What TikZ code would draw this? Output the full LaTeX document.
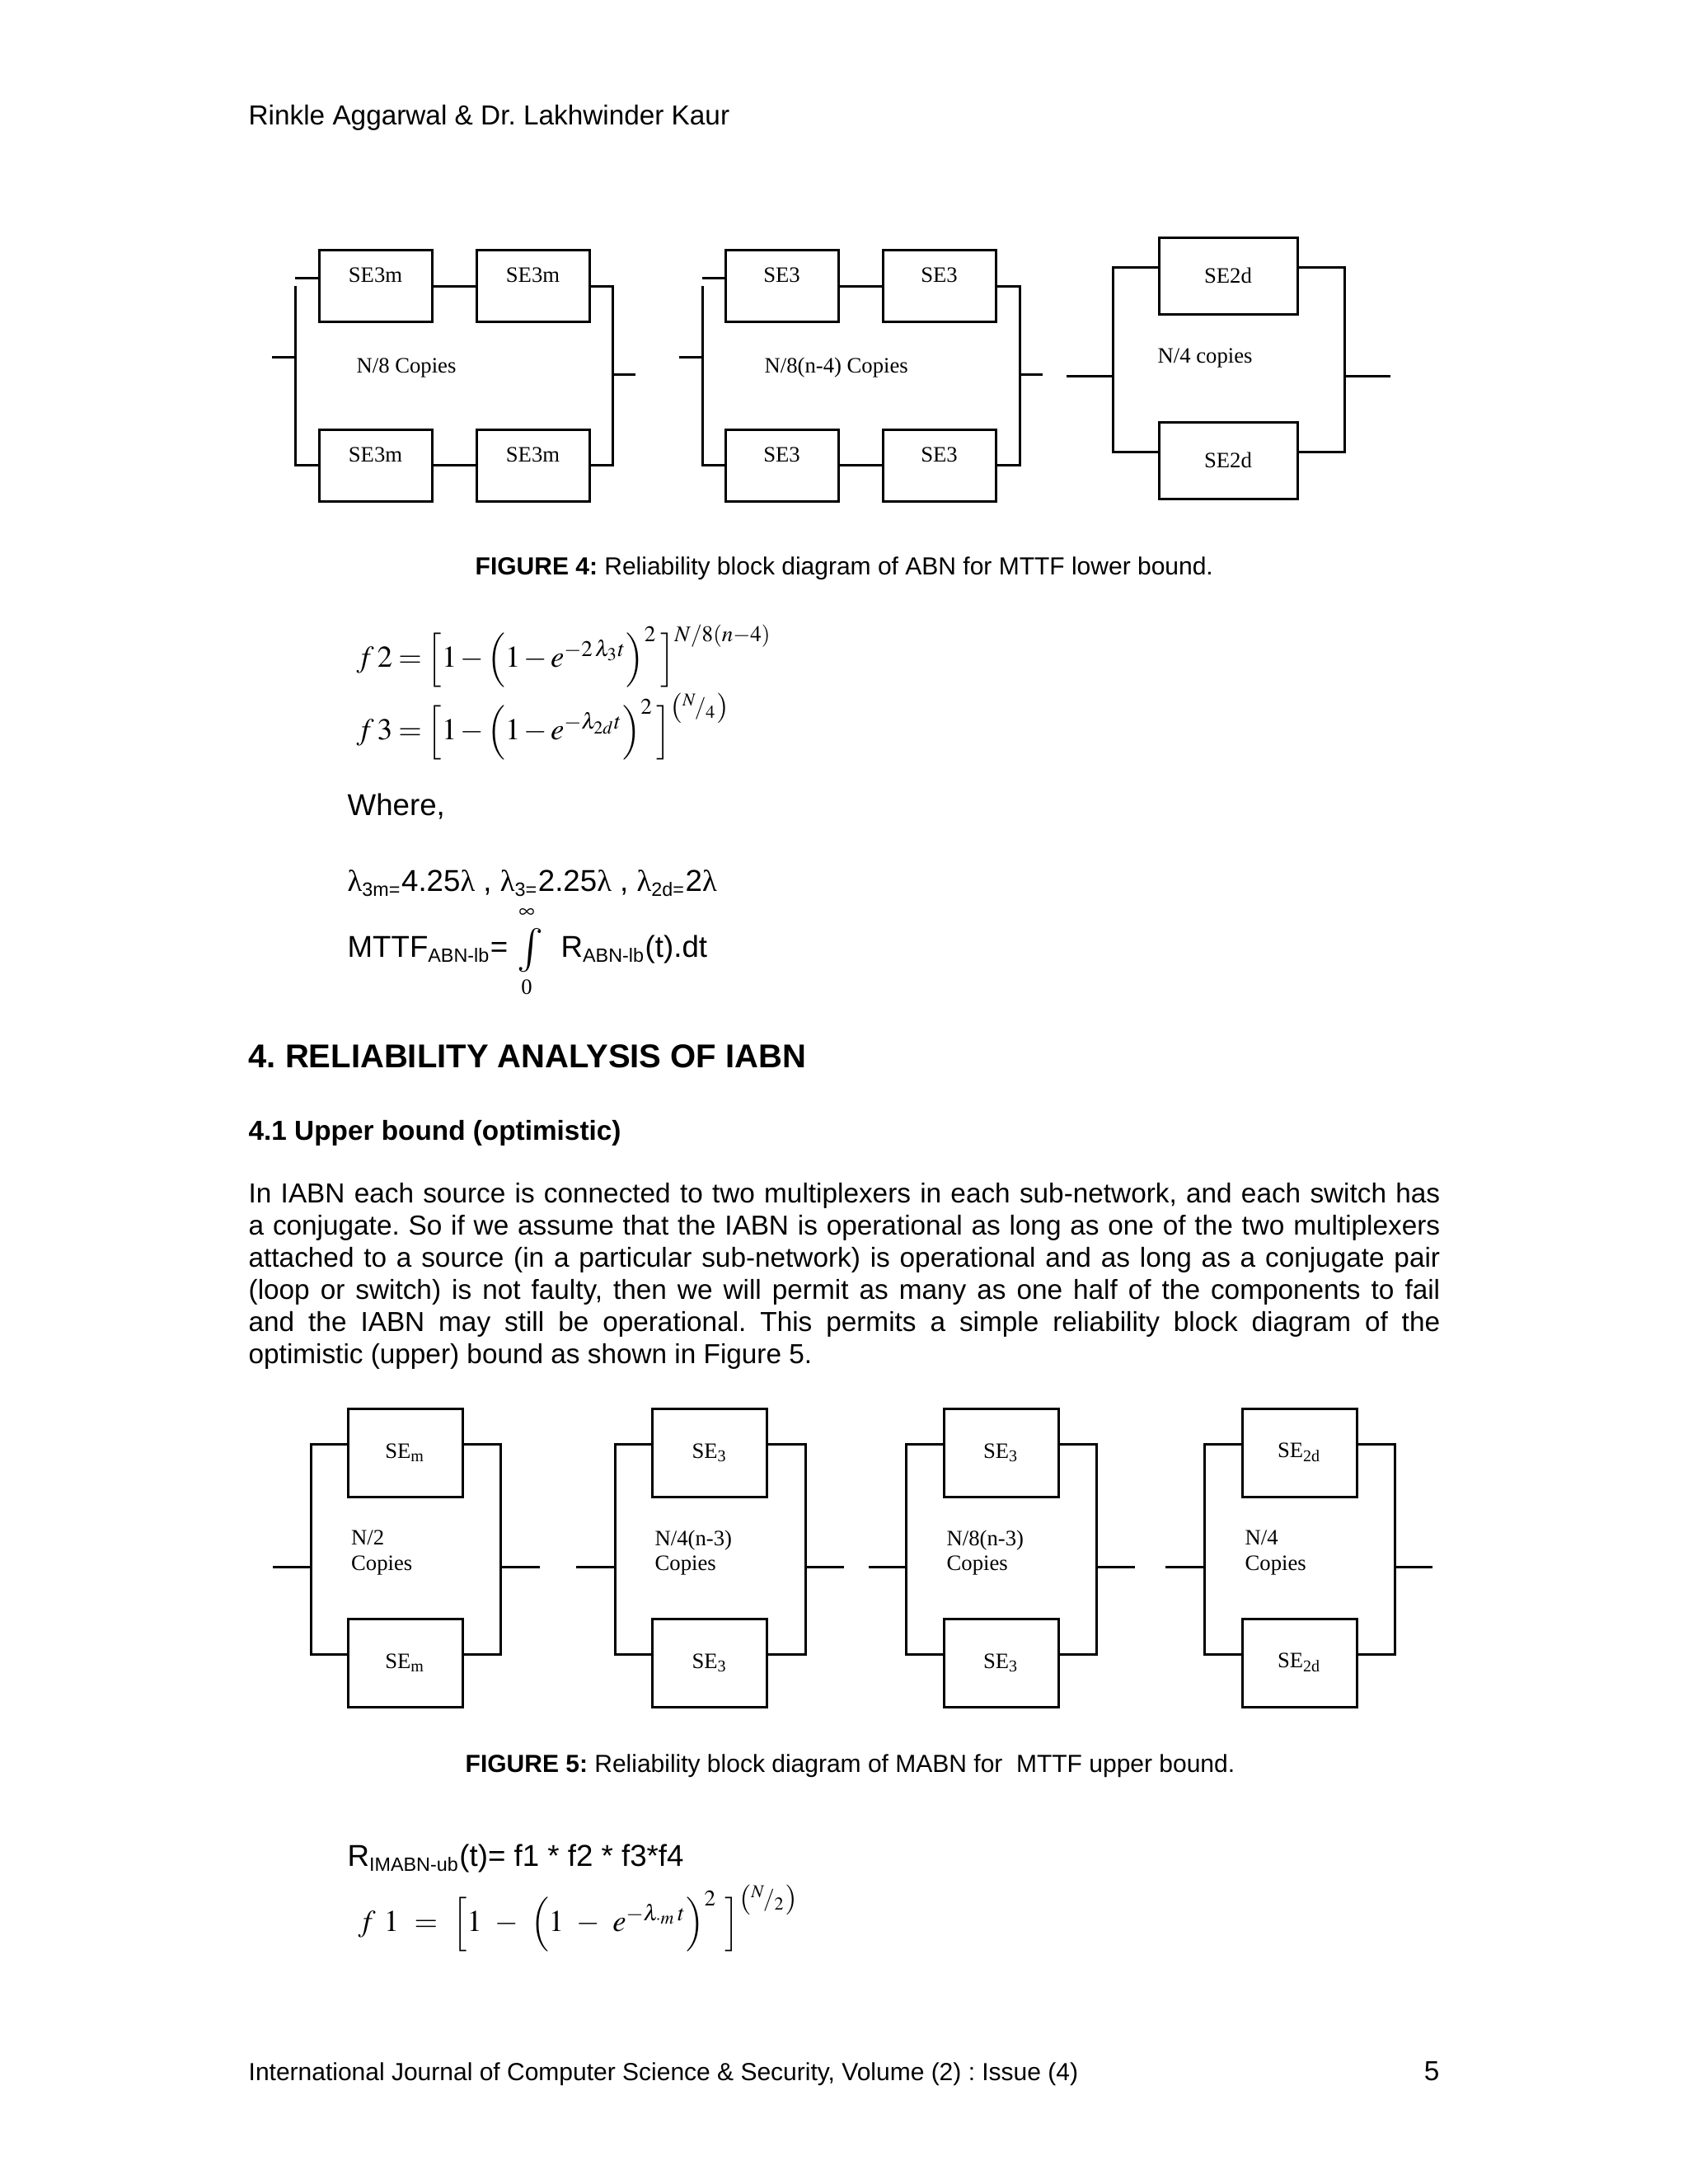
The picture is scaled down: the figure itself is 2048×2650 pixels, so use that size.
\documentclass[tikz,border=0pt]{standalone}
\usepackage{mathptmx}
\usepackage[no-math]{fontspec}
\setmainfont{Liberation Sans}
\newfontfamily\tnr{Liberation Serif}
\usetikzlibrary{positioning}

\newcommand{\tightmath}{\medmuskip=2mu\relax\thickmuskip=3.5mu\relax}
\newcommand{\lowsub}[1]{\textsubscript{\fontsize{7}{7}\selectfont #1}}

\begin{document}
\frenchspacing
\begin{tikzpicture}[
  x=0.3pt, y=-0.3pt,
  wire/.style={line width=0.9pt},
  sebox/.style={
    draw,
    line width=0.9pt,
    inner sep=0pt,
    minimum width=41.1pt,
    minimum height=26pt,
    font=\tnr\fontsize{8}{9.6}\selectfont
  },
  seboxup/.style={sebox, text depth=7.8pt},
  sedbox/.style={sebox, minimum width=50.4pt, minimum height=27.9pt},
  seubox/.style={sebox, minimum width=41.7pt, minimum height=32.1pt},
  copies/.style={anchor=west, inner sep=0pt, align=left, font=\tnr\fontsize{8}{9.2}\selectfont},
  txt/.style={anchor=mid west, inner sep=0pt, font=\fontsize{10}{11.5}\selectfont},
  txtl/.style={txt, font=\fontsize{11}{13}\selectfont},
  capt/.style={txt, font=\fontsize{9}{11}\selectfont},
  eqn/.style={anchor=mid west, inner sep=0pt, font=\fontsize{11}{13}\selectfont}
]
\fill[white] (0,0) rectangle (2048,2650);
\useasboundingbox (0,0) rectangle (2048,2650);

% Running head
\node[txt] (head) at (301,143) {Rinkle Aggarwal \& Dr. Lakhwinder Kaur};

% Figure 4, block A
\node[seboxup] (a1t) at (455.5,347) {SE3m};
\node[seboxup] (a2t) at (646.5,347) {SE3m};
\node[seboxup,below=38.4pt of a1t] (a1b) {SE3m};
\node[seboxup,below=38.4pt of a2t] (a2b) {SE3m};
\node[copies] (acp) at (432,446) {N/8 Copies};
\coordinate (aL) at (358,433);
\coordinate (aR) at (743,454);

\draw[wire] (a1t) -- (a2t);
\draw[wire] (a1b) -- (a2b);
\draw[wire] ([yshift=3pt]a1t.west) -- ([yshift=3pt]a1t.west -| aL);
\draw[wire] (a1t.west -| aL) -- (a1b.west -| aL) -- (a1b.west);
\draw[wire] (a2t.east) -| (aR) |- (a2b.east);
\draw[wire] (aL) -- ++(-28,0);
\draw[wire] (aR) -- ++(28,0);

% Figure 4, block B
\node[seboxup] (b1t) at (948.5,347) {SE3};
\node[seboxup] (b2t) at (1139.5,347) {SE3};
\node[seboxup,below=38.4pt of b1t] (b1b) {SE3};
\node[seboxup,below=38.4pt of b2t] (b2b) {SE3};
\node[copies] (bcp) at (927,446) {N/8(n-4) Copies};
\coordinate (bL) at (852,433);
\coordinate (bR) at (1237,454);

\draw[wire] (b1t) -- (b2t);
\draw[wire] (b1b) -- (b2b);
\draw[wire] ([yshift=3pt]b1t.west) -- ([yshift=3pt]b1t.west -| bL);
\draw[wire] (b1t.west -| bL) -- (b1b.west -| bL) -- (b1b.west);
\draw[wire] (b2t.east) -| (bR) |- (b2b.east);
\draw[wire] (bL) -- ++(-28,0);
\draw[wire] (bR) -- ++(28,0);

% Figure 4, block C
\node[sedbox] (c1) at (1490,334.5) {SE2d};
\node[sedbox] (c2) at (1490,558.5) {SE2d};
\node[copies] (ccp) at (1404,434) {N/4 copies};
\coordinate (cL) at (1350,456);
\coordinate (cR) at (1631,456);

\draw[wire] ([yshift=2.9pt]c1.west) -| (cL) |- ([yshift=2.9pt]c2.west);
\draw[wire] ([yshift=2.9pt]c1.east) -| (cR) |- ([yshift=2.9pt]c2.east);
\draw[wire] (cL) -- ++(-56,0);
\draw[wire] (cR) -- ++(56,0);

\node[capt] (cap4) at (576,689) {\textbf{FIGURE 4:} Reliability block diagram of ABN for MTTF lower bound.};

% Equations for the lower bound
\node[eqn] (f2) at (432,801)
{$\tightmath f\,2 = \Bigl[1 - \Bigl(1 - e^{-2\,\lambda_3 t}\Bigr)^{2}\,\Bigr]^{N/8(n-4)}$};
\node[eqn] (f3) at (432,889)
{$\tightmath f\,3 = \Bigl[1 - \Bigl(1 - e^{-\lambda_{2d} t}\Bigr)^{2}\,\Bigr]^{\left({}^{N}\!/_{4}\right)}$};

\node[txtl] (where) at (421,981) {Where,};
\node[txtl] (lam) at (421,1073)
{{\tnr λ}\lowsub{3m=}4.25{\tnr λ} , {\tnr λ}\lowsub{3=}2.25{\tnr λ} , {\tnr λ}\lowsub{2d=}2{\tnr λ}};

\node[txtl] (mttf) at (421,1153) {MTTF\lowsub{ABN-lb}=};
\node[inner sep=0pt,font=\fontsize{16}{16}\selectfont] (intg) at (643,1153) {$\int$};
\node[inner sep=0pt,font=\fontsize{8}{8}\selectfont] (inf) at (639,1108) {$\infty$};
\node[inner sep=0pt,font=\tnr\fontsize{8}{8}\selectfont] (low) at (639,1198) {0};
\node[txtl] (rabn) at (680,1153) {R\lowsub{ABN-lb}(t).dt};

% Section text
\node[txt,font=\bfseries\fontsize{12}{14}\selectfont] (sec) at (301,1287) {4. RELIABILITY ANALYSIS OF IABN};
\node[txt,font=\bfseries\fontsize{10}{12}\selectfont] (subsec) at (301,1375) {4.1 Upper bound (optimistic)};

\node[txt] (p1) at (301,1451) {\makebox[433.7pt][s]{In IABN each source is connected to two multiplexers in each sub-network, and each switch has}};
\node[txt] (p2) at (301,1490) {\makebox[433.7pt][s]{a conjugate. So if we assume that the IABN is operational as long as one of the two multiplexers}};
\node[txt] (p3) at (301,1529) {\makebox[433.7pt][s]{attached to a source (in a particular sub-network) is operational and as long as a conjugate pair}};
\node[txt] (p4) at (301,1568) {\makebox[433.7pt][s]{(loop or switch) is not faulty, then we will permit as many as one half of the components to fail}};
\node[txt] (p5) at (301,1607) {\makebox[433.7pt][s]{and the IABN may still be operational. This permits a simple reliability block diagram of the}};
\node[txt] (p6) at (301,1646) {optimistic (upper) bound as shown in Figure 5.};

% Figure 5, block 1
\node[seubox] (g1t) at (491.5,1762.5) {SE\textsubscript{m}};
\node[seubox] (g1b) at (491.5,2017.5) {SE\textsubscript{m}};
\node[copies] (g1cp) at (425.5,1884) {N/2\\Copies};
\coordinate (g1L) at (377,1901);
\coordinate (g1R) at (607.6,1901);

\draw[wire] ([yshift=3.15pt]g1t.west) -| (g1L) |- ([yshift=3.15pt]g1b.west);
\draw[wire] ([yshift=3.15pt]g1t.east) -| (g1R) |- ([yshift=3.15pt]g1b.east);
\draw[wire] (g1L) -- ++(-46,0);
\draw[wire] (g1R) -- ++(47,0);

% Figure 5, block 2
\node[seubox] (g2t) at (861,1762.5) {SE\textsubscript{3}};
\node[seubox] (g2b) at (861,2017.5) {SE\textsubscript{3}};
\node[copies] (g2cp) at (794,1884) {N/4(n-3)\\Copies};
\coordinate (g2L) at (746,1901);
\coordinate (g2R) at (977,1901);

\draw[wire] ([yshift=3.15pt]g2t.west) -| (g2L) |- ([yshift=3.15pt]g2b.west);
\draw[wire] ([yshift=3.15pt]g2t.east) -| (g2R) |- ([yshift=3.15pt]g2b.east);
\draw[wire] (g2L) -- ++(-47,0);
\draw[wire] (g2R) -- ++(46.5,0);

% Figure 5, block 3
\node[seubox] (g3t) at (1214.5,1762.5) {SE\textsubscript{3}};
\node[seubox] (g3b) at (1214.5,2017.5) {SE\textsubscript{3}};
\node[copies] (g3cp) at (1148,1884) {N/8(n-3)\\Copies};
\coordinate (g3L) at (1099.5,1901);
\coordinate (g3R) at (1330,1901);

\draw[wire] ([yshift=3.15pt]g3t.west) -| (g3L) |- ([yshift=3.15pt]g3b.west);
\draw[wire] ([yshift=3.15pt]g3t.east) -| (g3R) |- ([yshift=3.15pt]g3b.east);
\draw[wire] (g3L) -- ++(-46,0);
\draw[wire] (g3R) -- ++(47,0);

% Figure 5, block 4
\node[seubox] (g4t) at (1576.5,1762.5) {SE\textsubscript{2d}};
\node[seubox] (g4b) at (1576.5,2017.5) {SE\textsubscript{2d}};
\node[copies] (g4cp) at (1510,1884) {N/4\\Copies};
\coordinate (g4L) at (1461.7,1901);
\coordinate (g4R) at (1692,1901);

\draw[wire] ([yshift=3.15pt]g4t.west) -| (g4L) |- ([yshift=3.15pt]g4b.west);
\draw[wire] ([yshift=3.15pt]g4t.east) -| (g4R) |- ([yshift=3.15pt]g4b.east);
\draw[wire] (g4L) -- ++(-47.7,0);
\draw[wire] (g4R) -- ++(46,0);

\node[capt] (cap5) at (564,2142) {\textbf{FIGURE 5:} Reliability block diagram of MABN for\ \ MTTF upper bound.};

% Upper bound equations
\node[txtl] (rim) at (421,2256) {R\lowsub{IMABN-ub}(t)= f1 * f2 * f3*f4};
\node[eqn] (f1) at (434,2335)
{$f\ 1\ =\ \Bigl[1\ -\ \Bigl(1\ -\ e^{-\lambda_{\cdot m}\, t}\Bigr)^{2}\ \Bigr]^{\left({}^{N}\!/_{2}\right)}$};

% Running foot
\node[txt,font=\fontsize{9}{11}\selectfont] (foot) at (301,2516) {International Journal of Computer Science \& Security, Volume (2) : Issue (4)};
\node[txt,anchor=mid east] (pnum) at (1747,2516) {5};

\end{tikzpicture}
\end{document}
